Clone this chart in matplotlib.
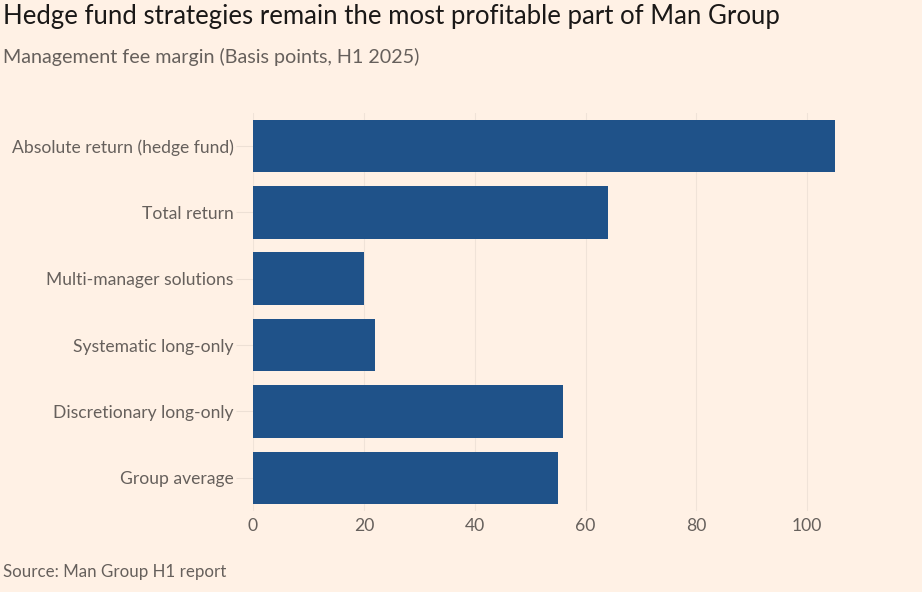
import matplotlib
matplotlib.use("Agg")
import matplotlib.pyplot as plt

# Management fee margin, basis points, H1 2025
categories = [
    "Absolute return (hedge fund)",
    "Total return",
    "Multi-manager solutions",
    "Systematic long-only",
    "Discretionary long-only",
    "Group average",
]
values = [105, 64, 20, 22, 56, 55]
xticks = [0, 20, 40, 60, 80, 100]

bg = "#FFF1E5"
bar_color = "#1F5289"
text_grey = "#66605C"

plt.rcParams["font.family"] = ["Lato", "DejaVu Sans"]

fig = plt.figure(figsize=(9.22, 5.92), dpi=100, facecolor=bg)
ax = fig.add_axes([0.2744, 0.1368, 0.6432, 0.6727], facecolor=bg)

ypos = list(range(len(categories)))
ax.barh(ypos, values, height=0.79, color=bar_color, zorder=3)

ax.set_ylim(len(categories) - 0.5, -0.5)
ax.set_xlim(0, 107)
ax.set_yticks(ypos)
ax.set_yticklabels(categories)
ax.set_xticks(xticks)

ax.grid(axis="x", color="#F0E3D8", linewidth=0.8, zorder=0)
for s in ax.spines.values():
    s.set_visible(False)

ax.tick_params(axis="y", length=12, width=0.8, color="#EDE0D5",
               labelsize=12.6, labelcolor=text_grey, pad=2)
ax.tick_params(axis="x", length=0, labelsize=12.6, labelcolor=text_grey, pad=5)

fig.text(0.003, 0.972, "Hedge fund strategies remain the most profitable part of Man Group",
         fontsize=18.5, color="#1A1817", va="center", ha="left")
fig.text(0.003, 0.903, "Management fee margin (Basis points, H1 2025)",
         fontsize=14.2, color=text_grey, va="center", ha="left")
fig.text(0.003, 0.034, "Source: Man Group H1 report",
         fontsize=12.2, color=text_grey, va="center", ha="left")

fig.savefig("out.png", dpi=100, facecolor=bg)
